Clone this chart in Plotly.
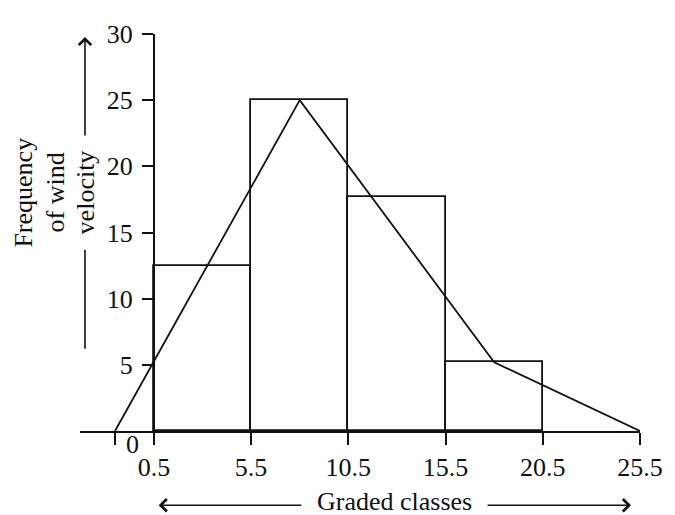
import plotly.graph_objects as go

# ---- data ----
class_bounds = [0.5, 5.5, 10.5, 15.5, 20.5, 25.5]
frequencies = [12.5, 25, 17.7, 5.2]
polygon_x = [-1.5, 8, 18, 25.5]
polygon_y = [0, 25, 5.2, 0]
x_tick_vals = [-1.5, 0.5, 5.5, 10.5, 15.5, 20.5, 25.5]
x_tick_text = ["", "0.5", "5.5", "10.5", "15.5", "20.5", "25.5"]
y_tick_vals = [5, 10, 15, 20, 25, 30]

FONT = "Liberation Serif"
FS = 26
OFF = 8  # page body margin
W, H = 675 - OFF, 515 - OFF
# plot area in reference-pixel coordinates
PL, PR, PT, PB = 80, 642, 30, 431
ML, MT = PL - OFF, PT - OFF
MR, MB = W - (PR - OFF), H - (PB - OFF)
X_RANGE = [-3.3, 25.5]
Y_RANGE = [0, 30]

def px_to_paper(px, py):
    return (px - PL) / (PR - PL), (PB - py) / (PB - PT)

mids = [(class_bounds[i] + class_bounds[i + 1]) / 2 for i in range(len(frequencies))]
widths = [class_bounds[i + 1] - class_bounds[i] for i in range(len(frequencies))]

fig = go.Figure()
fig.add_trace(go.Bar(
    x=mids, y=frequencies, width=widths,
    marker=dict(color="rgba(0,0,0,0)", line=dict(color="#111", width=1.8)),
    showlegend=False, hoverinfo="skip"))
fig.add_trace(go.Scatter(
    x=polygon_x, y=polygon_y, mode="lines",
    line=dict(color="#111", width=1.8), showlegend=False, hoverinfo="skip"))

yaxis_pos = (class_bounds[0] - X_RANGE[0]) / (X_RANGE[1] - X_RANGE[0])

fig.update_layout(
    width=W, height=H,
    margin=dict(l=ML, r=MR, t=MT, b=MB),
    plot_bgcolor="white", paper_bgcolor="white",
    font=dict(family=FONT, size=FS, color="#111"),
    bargap=0,
    xaxis=dict(range=X_RANGE, domain=[0, 1], showgrid=False, zeroline=False,
               showline=True, linecolor="#111", linewidth=1.8,
               ticks="outside", ticklen=12, tickwidth=1.8, tickcolor="#111",
               tickvals=x_tick_vals, ticktext=x_tick_text,
               tickfont=dict(family=FONT, size=FS, color="#111")),
    yaxis=dict(range=Y_RANGE, anchor="free", position=yaxis_pos,
               showgrid=False, zeroline=False,
               showline=True, linecolor="#111", linewidth=1.8,
               ticks="outside", ticklen=11, tickwidth=1.8, tickcolor="#111",
               tickvals=y_tick_vals, ticklabelstandoff=4,
               tickfont=dict(family=FONT, size=FS, color="#111")),
)

annotations = []
# origin label "0"
annotations.append(dict(x=-0.58, y=0, xref="x", yref="y", text="0",
                        showarrow=False, yshift=-13, xanchor="center", yanchor="middle",
                        font=dict(family=FONT, size=FS, color="#111")))
# y title, three lines
for txt, cx in [("Frequency", 23), ("of wind", 55), ("velocity", 85)]:
    tx, ty = px_to_paper(cx, 190)
    annotations.append(dict(x=tx, y=ty, xref="paper", yref="paper",
                            text=txt, textangle=-90,
                            showarrow=False, xanchor="center", yanchor="middle",
                            font=dict(family=FONT, size=FS, color="#111")))
# upward arrow
hx, hy = px_to_paper(85, 33)
annotations.append(dict(x=hx, y=hy, xref="paper", yref="paper", text="",
                        showarrow=True, ax=0, ay=100, arrowhead=4, arrowsize=1.5,
                        arrowwidth=1.6, arrowcolor="#111"))
# x title
tx, ty = px_to_paper(396, 502)
annotations.append(dict(x=tx, y=ty, xref="paper", yref="paper",
                        text="Graded classes", showarrow=False,
                        xanchor="center", yanchor="middle",
                        font=dict(family=FONT, size=FS, color="#111")))
hx, hy = px_to_paper(159, 506)
annotations.append(dict(x=hx, y=hy, xref="paper", yref="paper", text="",
                        showarrow=True, ax=144, ay=0, arrowhead=4, arrowsize=1.5,
                        arrowwidth=1.6, arrowcolor="#111"))
hx, hy = px_to_paper(633, 506)
annotations.append(dict(x=hx, y=hy, xref="paper", yref="paper", text="",
                        showarrow=True, ax=-145, ay=0, arrowhead=4, arrowsize=1.5,
                        arrowwidth=1.6, arrowcolor="#111"))
fig.update_layout(annotations=annotations)

# lower segment of the y-title line
x0, y0 = px_to_paper(85, 248)
x1, y1 = px_to_paper(85, 348)
fig.add_shape(type="line", xref="paper", yref="paper", x0=x0, y0=y0, x1=x1, y1=y1,
              line=dict(color="#111", width=1.6))

fig.write_html("out.html")
